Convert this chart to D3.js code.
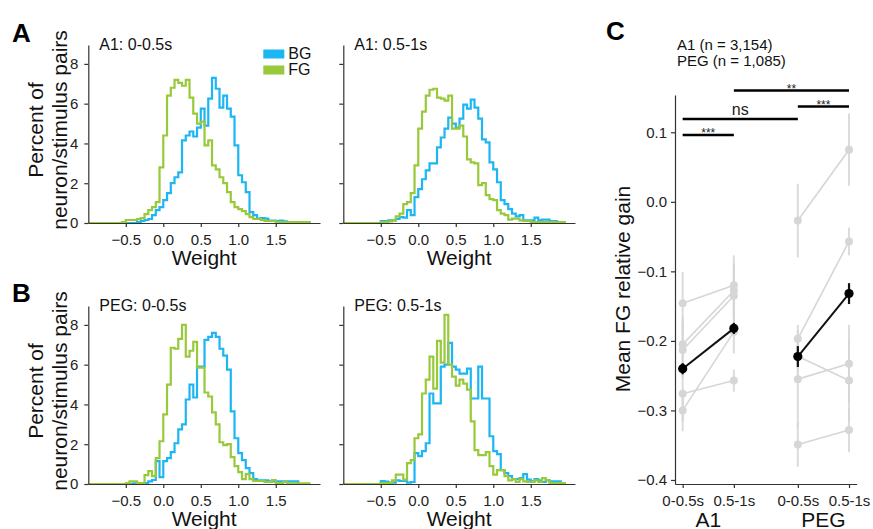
<!DOCTYPE html>
<meta charset="utf-8" />
<title>FG / BG weights</title>
<script src="https://d3js.org/d3.v7.min.js"></script>
<style>
  body { margin: 0; background: #fff; }
  svg { display: block; font-family: "Liberation Sans", Arial, sans-serif; }
  .axis path, .axis line { stroke: #333; stroke-width: 1.2; }
  .axis text { font-size: 15px; fill: #222; font-family: "Liberation Sans", Arial, sans-serif; }
</style>
<div id="chart"></div>
<script>
  // histogram bins: left edge and width (weight units)
  var binLeft = -1.0;
  var binStep = 0.05;

  // percent of neuron/stimulus pairs per bin, 59 bins from -1.0 to 1.95
  var a1EarlyBG = [0,0,0,0,0,0,0,0,0,0,0,0,0,0.05,0.1,0.15,0.2,0.4,0.65,0.8,
    1.15,1.5,2.0,2.3,2.55,4.15,4.4,4.6,4.35,4.8,5.75,4.9,6.25,7.3,6.75,5.8,6.4,5.75,5.35,3.9,
    2.4,2.05,1.55,0.55,0.4,0.22,0.25,0.22,0.12,0.12,0.1,0.12,0.08,0.05,0.03,0.03,0.03,0.03,0.03];
  var a1EarlyFG = [0,0,0,0,0,0,0,0,0,0.05,0.15,0.15,0.15,0.2,0.25,0.45,0.65,0.8,1.05,2.8,
    4.4,6.4,6.8,7.2,7.05,6.9,7.2,6.3,5.5,5.0,5.1,3.9,4.15,2.9,2.7,2.3,2.0,1.55,1.05,0.8,
    0.7,0.6,0.45,0.3,0.2,0.2,0.15,0.1,0.1,0.1,0.05,0.05,0.05,0.05,0.05,0.05,0.05,0.05,0.05];
  var a1LateBG = [0,0,0,0,0,0,0,0,0,0,0.1,0.1,0.13,0.13,0.2,0.3,0.27,0.65,0.4,1.3,
    1.7,2.2,2.65,3.0,3.0,3.8,4.3,4.75,5.3,5.0,4.8,5.25,5.95,5.75,6.2,5.8,5.25,4.2,4.05,3.05,
    2.7,2.05,1.15,0.95,0.7,0.47,0.33,0.4,0.13,0.13,0.13,0.27,0.13,0.17,0.17,0.1,0.1,0.05,0.05];
  var a1LateFG = [0,0,0,0,0,0,0,0,0,0,0.05,0.05,0.08,0.13,0.33,0.47,0.95,1.05,1.5,2.9,
    4.75,5.6,6.4,6.7,6.75,6.3,6.25,6.15,6.4,4.75,4.75,4.9,4.35,3.2,3.05,3.0,1.9,2.0,1.4,1.2,
    1.15,0.65,0.47,0.4,0.17,0.22,0.22,0.13,0.1,0.1,0.05,0.05,0.05,0.05,0.05,0.05,0.05,0.05,0.05];
  var pegEarlyBG = [0,0,0,0,0,0,0,0,0,0,0,0,0.03,0.03,0.05,0.05,0.13,0.2,1.15,0.35,
    1.15,1.3,1.6,2.05,2.75,3.0,4.25,5.0,4.35,5.9,5.9,7.25,7.4,7.6,7.4,6.8,6.45,5.75,3.65,2.3,
    1.55,1.2,0.8,0.55,0.25,0.18,0.18,0.18,0.13,0.13,0.13,0.13,0.13,0.13,0.13,0.13,0,0,0];
  var pegEarlyFG = [0,0,0,0,0,0,0,0,0,0,0.05,0.13,0.13,0.05,0.05,0.45,0.65,0.4,1.3,2.15,
    3.5,5.0,6.85,6.8,7.3,8.0,6.4,6.7,7.15,5.85,5.85,4.6,4.4,3.6,3.0,2.1,1.95,2.0,1.35,0.9,
    0.6,0.25,0.5,0.25,0.15,0.15,0.15,0.1,0.1,0.2,0.05,0.05,0.1,0.03,0.03,0.03,0.03,0.03,0.03];
  var pegLateBG = [0,0,0,0,0,0,0,0,0,0,0.15,0.12,0.07,0.07,0.18,0.15,0.15,0.07,0.1,1.55,
    1.4,1.65,2.05,4.55,4.05,4.05,5.9,6.0,7.1,5.9,5.75,5.55,5.55,5.8,4.3,4.3,5.9,4.3,4.3,2.4,
    1.65,1.5,0.7,0.55,0.4,0.25,0.25,0.3,0.5,0.22,0.13,0.25,0.18,0.1,0.18,0.13,0.13,0.13,0.05];
  var pegLateFG = [0,0,0,0,0,0,0,0,0,0,0.05,0.05,0.05,0.18,0.47,0.47,0.22,1.05,1.2,2.3,
    2.5,4.55,5.25,6.4,4.8,7.2,6.1,8.5,6.0,5.4,4.95,5.25,5.05,4.75,3.15,1.7,1.45,1.45,1.6,0.9,
    0.47,0.7,0.7,0.4,0.18,0.25,0.1,0.25,0.13,0.1,0.1,0.18,0.1,0.3,0.18,0.05,0.05,0.05,0.05];

  var histTitles = ["A1: 0-0.5s", "A1: 0.5-1s", "PEG: 0-0.5s", "PEG: 0.5-1s"];
  var weightTicks = [-0.5, 0, 0.5, 1, 1.5];
  var percentTicks = [0, 2, 4, 6, 8];

  // panel C: mean FG relative gain
  var condLabels = ["0-0.5s", "0.5-1s", "0-0.5s", "0.5-1s"];
  var areaLabels = ["A1", "PEG"];
  var gainTicks = [0.1, 0.0, -0.1, -0.2, -0.3, -0.4];
  var nLabels = ["A1 (n = 3,154)", "PEG (n = 1,085)"];

  var a1Mean = [-0.240, -0.182];
  var a1MeanErr = [0.008, 0.008];
  var pegMean = [-0.2225, -0.132];
  var pegMeanErr = [0.015, 0.015];

  // subsets (gray): early, late values and errors
  var a1SubEarly = [-0.146, -0.205, -0.213, -0.276, -0.300];
  var a1SubLate = [-0.120, -0.128, -0.135, -0.257, -0.187];
  var a1SubEarlyErr = [0.045, 0.04, 0.04, 0.04, 0.03];
  var a1SubLateErr = [0.043, 0.04, 0.04, 0.016, 0.031];
  var pegSubEarly = [-0.027, -0.197, -0.222, -0.255, -0.349];
  var pegSubLate = [0.075, -0.057, -0.257, -0.233, -0.328];
  var pegSubEarlyErr = [0.053, 0.02, 0.03, 0.07, 0.032];
  var pegSubLateErr = [0.052, 0.02, 0.06, 0.056, 0.032];

  // significance brackets: condition index from/to, height, label
  var sigFrom = [0, 0, 2, 1];
  var sigTo = [1, 2, 3, 3];
  var sigY = [0.096, 0.119, 0.137, 0.160];
  var sigText = ["***", "ns", "***", "**"];

  var bgColor = "#1cb6f2";
  var fgColor = "#98c93a";

  var svg = d3.select("#chart").append("svg")
    .attr("width", 873)
    .attr("height", 529);

  // ---------- histograms (A, B) ----------
  var colX = [88.3, 343.3];
  var rowY = [45, 306];
  var plotW = 231.7, plotH = 178;

  var series = [
    [a1EarlyBG, a1EarlyFG],
    [a1LateBG, a1LateFG],
    [pegEarlyBG, pegEarlyFG],
    [pegLateBG, pegLateFG]
  ];

  series.forEach(function (s, k) {
    var col = k % 2, row = Math.floor(k / 2);
    var g = svg.append("g")
      .attr("transform", "translate(" + colX[col] + "," + rowY[row] + ")");

    var x = d3.scaleLinear().domain([-1, 2.09]).range([0, plotW]);
    var y = d3.scaleLinear().domain([0, 8.95]).range([plotH, 0]);

    var line = d3.line()
      .x(function (d) { return x(d[0]); })
      .y(function (d) { return y(d[1]); })
      .curve(d3.curveStepAfter);

    function stepPoints(vals) {
      var pts = [[binLeft, 0]];
      vals.forEach(function (v, i) { pts.push([binLeft + i * binStep, v]); });
      pts.push([binLeft + vals.length * binStep, 0]);
      return pts;
    }

    g.append("path")
      .attr("d", line(stepPoints(s[0])))
      .attr("fill", "none")
      .attr("stroke", bgColor)
      .attr("stroke-width", 2.2);
    g.append("path")
      .attr("d", line(stepPoints(s[1])))
      .attr("fill", "none")
      .attr("stroke", fgColor)
      .attr("stroke-width", 2.2);

    g.append("g").attr("class", "axis")
      .attr("transform", "translate(0," + plotH + ")")
      .call(d3.axisBottom(x).tickValues(weightTicks)
        .tickFormat(d3.format(".1f")).tickSize(4).tickPadding(7).tickSizeOuter(0));

    g.append("g").attr("class", "axis")
      .call(d3.axisLeft(y).tickValues(percentTicks)
        .tickFormat(col === 0 ? d3.format("d") : "").tickSize(4).tickPadding(6).tickSizeOuter(0));

    g.append("text")
      .attr("x", x(-1) + 11)
      .attr("y", 5)
      .attr("font-size", 16)
      .attr("fill", "#111")
      .text(histTitles[k]);

    g.append("text")
      .attr("x", plotW / 2)
      .attr("y", plotH + 42)
      .attr("text-anchor", "middle")
      .attr("font-size", 21)
      .attr("fill", "#111")
      .text("Weight");

    if (col === 0) {
      var yl = g.append("text")
        .attr("transform", "translate(" + (-45.3) + "," + (plotH / 2 - 4) + ") rotate(-90)")
        .attr("text-anchor", "middle")
        .attr("font-size", 21)
        .attr("fill", "#111");
      yl.append("tspan").attr("x", 0).attr("y", 0).text("Percent of");
      yl.append("tspan").attr("x", 0).attr("y", 24).text("neuron/stimulus pairs");
    }

    if (k === 0) {
      var legend = [["BG", bgColor], ["FG", fgColor]];
      legend.forEach(function (d, i) {
        g.append("rect")
          .attr("x", 175)
          .attr("y", 4.5 + i * 16)
          .attr("width", 21)
          .attr("height", 9)
          .attr("fill", d[1]);
        g.append("text")
          .attr("x", 200)
          .attr("y", 14 + i * 16)
          .attr("font-size", 16)
          .attr("fill", "#111")
          .text(d[0]);
      });
    }
  });

  // panel letters
  [["A", 12, 41.5], ["B", 12, 302], ["C", 606, 40]].forEach(function (d) {
    svg.append("text")
      .attr("x", d[1])
      .attr("y", d[2])
      .attr("font-size", 26)
      .attr("font-weight", "bold")
      .attr("fill", "#000")
      .text(d[0]);
  });

  // ---------- panel C ----------
  var condPos = [0, 1, 2.25, 3.25];
  var xC = d3.scaleLinear().domain([-0.15, 3.4]).range([675, 856.7]);
  var yC = d3.scaleLinear().domain([-0.4058, 0.1536]).range([484, 95]);
  var cg = svg.append("g");
  var gray = "#d6d6d6";

  var groups = [
    { pos: [condPos[0], condPos[1]], early: a1SubEarly, late: a1SubLate, eErr: a1SubEarlyErr, lErr: a1SubLateErr, mean: a1Mean, err: a1MeanErr },
    { pos: [condPos[2], condPos[3]], early: pegSubEarly, late: pegSubLate, eErr: pegSubEarlyErr, lErr: pegSubLateErr, mean: pegMean, err: pegMeanErr }
  ];

  // gray error bars
  groups.forEach(function (gr) {
    gr.early.forEach(function (v, i) {
      cg.append("line")
        .attr("x1", xC(gr.pos[0])).attr("x2", xC(gr.pos[0]))
        .attr("y1", yC(v - gr.eErr[i])).attr("y2", yC(v + gr.eErr[i]))
        .attr("stroke", gray).attr("stroke-width", 2).attr("opacity", 0.85);
      var w = gr.late[i];
      cg.append("line")
        .attr("x1", xC(gr.pos[1])).attr("x2", xC(gr.pos[1]))
        .attr("y1", yC(w - gr.lErr[i])).attr("y2", yC(w + gr.lErr[i]))
        .attr("stroke", gray).attr("stroke-width", 2).attr("opacity", 0.85);
    });
  });
  // gray lines and dots
  groups.forEach(function (gr) {
    gr.early.forEach(function (v, i) {
      cg.append("line")
        .attr("x1", xC(gr.pos[0])).attr("y1", yC(v))
        .attr("x2", xC(gr.pos[1])).attr("y2", yC(gr.late[i]))
        .attr("stroke", gray).attr("stroke-width", 1.6);
    });
    gr.early.forEach(function (v, i) {
      cg.append("circle").attr("cx", xC(gr.pos[0])).attr("cy", yC(v)).attr("r", 4).attr("fill", gray);
      cg.append("circle").attr("cx", xC(gr.pos[1])).attr("cy", yC(gr.late[i])).attr("r", 4).attr("fill", gray);
    });
  });
  // black means
  groups.forEach(function (gr) {
    cg.append("line")
      .attr("x1", xC(gr.pos[0])).attr("y1", yC(gr.mean[0]))
      .attr("x2", xC(gr.pos[1])).attr("y2", yC(gr.mean[1]))
      .attr("stroke", "#111").attr("stroke-width", 2);
    gr.mean.forEach(function (m, j) {
      cg.append("line")
        .attr("x1", xC(gr.pos[j])).attr("x2", xC(gr.pos[j]))
        .attr("y1", yC(m - gr.err[j])).attr("y2", yC(m + gr.err[j]))
        .attr("stroke", "#111").attr("stroke-width", 2.2);
      cg.append("circle").attr("cx", xC(gr.pos[j])).attr("cy", yC(m)).attr("r", 4.6).attr("fill", "#000");
    });
  });

  // axes
  cg.append("g").attr("class", "axis")
    .attr("transform", "translate(675,0)")
    .call(d3.axisLeft(yC).tickValues(gainTicks).tickFormat(d3.format(".1f"))
      .tickSize(4).tickPadding(4).tickSizeOuter(0));
  cg.append("g").attr("class", "axis")
    .attr("transform", "translate(0,484)")
    .call(d3.axisBottom(xC).tickValues(condPos)
      .tickFormat(function (d, i) { return condLabels[i]; })
      .tickSize(4).tickPadding(7).tickSizeOuter(0));

  areaLabels.forEach(function (a, i) {
    cg.append("text")
      .attr("x", xC((condPos[2 * i] + condPos[2 * i + 1]) / 2))
      .attr("y", 527)
      .attr("text-anchor", "middle")
      .attr("font-size", 21)
      .attr("fill", "#111")
      .text(a);
  });

  cg.append("text")
    .attr("transform", "translate(630,289) rotate(-90)")
    .attr("text-anchor", "middle")
    .attr("font-size", 21)
    .attr("fill", "#111")
    .text("Mean FG relative gain");

  nLabels.forEach(function (t, i) {
    cg.append("text")
      .attr("x", 677)
      .attr("y", 50 + i * 16)
      .attr("font-size", 15)
      .attr("fill", "#111")
      .text(t);
  });

  // significance brackets
  sigText.forEach(function (t, i) {
    var yy = yC(sigY[i]);
    cg.append("line")
      .attr("x1", xC(condPos[sigFrom[i]])).attr("x2", xC(condPos[sigTo[i]]))
      .attr("y1", yy).attr("y2", yy)
      .attr("stroke", "#000").attr("stroke-width", 2.6);
    var isNs = t === "ns";
    cg.append("text")
      .attr("x", (xC(condPos[sigFrom[i]]) + xC(condPos[sigTo[i]])) / 2)
      .attr("y", isNs ? yy - 4 : yy + 2)
      .attr("text-anchor", "middle")
      .attr("font-size", isNs ? 16 : 12)
      .attr("fill", "#222")
      .text(t);
  });
</script>
